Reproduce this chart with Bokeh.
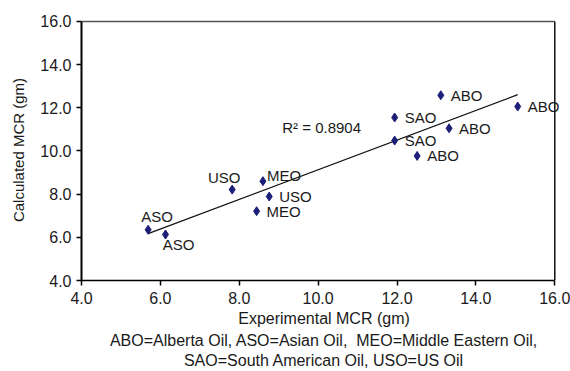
import numpy as np
from bokeh.plotting import figure
from bokeh.models import ColumnDataSource, Range1d, FixedTicker, PrintfTickFormatter, Label, Title
from bokeh.embed import file_html
from bokeh.resources import INLINE

# ---- data ----
oil_labels = ["ASO", "ASO", "USO", "MEO", "USO", "MEO", "SAO", "SAO", "ABO", "ABO", "ABO", "ABO"]
experimental_mcr = [5.69, 6.13, 7.82, 8.60, 8.76, 8.44, 11.94, 11.94, 13.11, 15.06, 13.32, 12.51]
calculated_mcr = [6.35, 6.13, 8.21, 8.60, 7.89, 7.21, 11.55, 10.48, 12.58, 12.06, 11.05, 9.77]
r_squared_text = "R\u00b2 = 0.8904"
tick_values = [4, 6, 8, 10, 12, 14, 16]
axis_min, axis_max = 4, 16
caption_lines = ["ABO=Alberta Oil, ASO=Asian Oil,\u00a0 MEO=Middle Eastern Oil,",
                 "SAO=South American Oil, USO=US Oil"]

# label placement (pixels, styling only)
label_dx = [9, 13, -8, 4, 10, 10, 10, 10, 10, 10, 10, 10]
label_dy = [13.5, -10, 12.5, 6, 0, 0, 0, 0, 0, 0, 0, 0]
label_align = ["center", "center", "center", "left", "left", "left", "left", "left", "left", "left", "left", "left"]

FONT = "Liberation Sans"
TXT = "#1a1a1a"
NAVY = "#1c1f78"

p = figure(width=570, height=371, output_backend="svg", toolbar_location=None,
           x_range=Range1d(4, 16.297), y_range=Range1d(4, 16.09),
           min_border_left=81, min_border_right=4, min_border_top=19, min_border_bottom=91)
p.xgrid.visible = False
p.ygrid.visible = False
p.outline_line_color = None
p.background_fill_color = "white"
p.border_fill_color = "white"

for ax in (p.xaxis[0], p.yaxis[0]):
    ax.ticker = FixedTicker(ticks=tick_values)
    ax.formatter = PrintfTickFormatter(format="%.1f")
    ax.bounds = (axis_min, axis_max)
    ax.minor_tick_line_color = None
    ax.major_tick_in = 0
    ax.major_tick_out = 5
    ax.major_tick_line_color = "black"
    ax.major_tick_line_width = 1.5
    ax.axis_line_color = "black"
    ax.major_label_text_font = FONT
    ax.major_label_text_font_size = "16px"
    ax.major_label_text_color = TXT
    ax.axis_label_text_font = FONT
    ax.axis_label_text_font_style = "normal"
    ax.axis_label_text_color = TXT

p.xaxis.axis_label = "Experimental MCR (gm)"
p.yaxis.axis_label = "Calculated MCR (gm)"
p.xaxis.axis_label_text_font_size = "16px"
p.yaxis.axis_label_text_font_size = "15px"
p.xaxis.axis_line_width = 1.5
p.yaxis.axis_line_width = 2
p.xaxis.major_label_standoff = 6
p.xaxis.axis_label_standoff = 3
p.yaxis.major_label_standoff = 5
p.yaxis.axis_label_standoff = 10

# top and right frame borders
p.line([axis_min, axis_max], [axis_max, axis_max], line_color="#555555", line_width=1.5)
p.line([axis_max, axis_max], [axis_min, axis_max], line_color="#111111", line_width=1.5)

# trendline (least squares fit of the data)
slope, intercept = np.polyfit(experimental_mcr, calculated_mcr, 1)
tx = [min(experimental_mcr), max(experimental_mcr)]
ty = [slope * v + intercept for v in tx]
p.line(tx, ty, line_color="#111111", line_width=1.2)

src = ColumnDataSource(dict(x=experimental_mcr, y=calculated_mcr))
p.scatter("x", "y", source=src, marker="diamond", size=9, fill_color=NAVY, line_color=NAVY)

for i in range(len(oil_labels)):
    p.add_layout(Label(x=experimental_mcr[i], y=calculated_mcr[i], text=oil_labels[i],
                       x_offset=label_dx[i], y_offset=label_dy[i],
                       text_align=label_align[i], text_baseline="middle",
                       text_font=FONT, text_font_size="15px", text_color=TXT))

p.add_layout(Label(x=9.09, y=11.08, text=r_squared_text, text_align="left", text_baseline="middle",
                   text_font=FONT, text_font_size="15px", text_color=TXT))

for line in caption_lines:
    t = Title(text=line, align="center", text_font=FONT, text_font_size="16px",
              text_font_style="normal", text_color=TXT, standoff=1)
    p.add_layout(t, "below")

open("out.html", "w").write(file_html(p, INLINE))
